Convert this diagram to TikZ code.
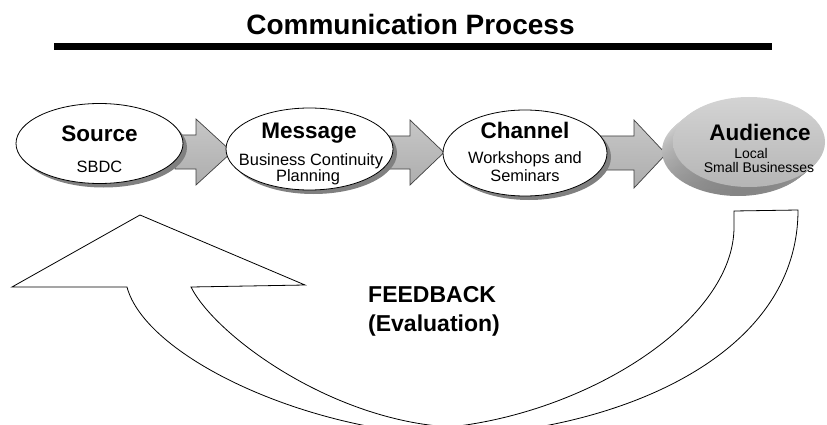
\documentclass[tikz,border=0pt]{standalone}
\usepackage{fontspec}
\setmainfont{Liberation Sans}
\usetikzlibrary{shapes.geometric}
\begin{document}
\begin{tikzpicture}[x=1pt,y=-1pt,
  bubble/.style={ellipse, draw=black, line width=0.8pt, fill=white, inner sep=0pt},
  shadowell/.style={ellipse, fill=black!50, inner sep=0pt},
  blockarrow/.style={draw=black!75, line width=0.7pt, top color=black!22, bottom color=black!32, line join=miter},
  headtext/.style={font=\fontsize{22.5}{24}\selectfont\bfseries, anchor=base, inner sep=0pt},
  subtext/.style={font=\fontsize{16.4}{18}\selectfont, anchor=base, inner sep=0pt},
  smalltext/.style={font=\fontsize{14}{16}\selectfont, anchor=base, inner sep=0pt},
  fbtext/.style={font=\fontsize{23}{29}\selectfont\bfseries, anchor=base west, inner sep=0pt},
]
\useasboundingbox (0,0) rectangle (827,425);

% title
\node[font=\fontsize{28}{30}\selectfont\bfseries, anchor=base, inner sep=0pt] (title) at (410.5,35) {Communication Process};
\draw[line width=6.5pt] (54,46.5) -- (772,46.5);

% block arrows (drawn first, behind the ellipses)
\draw[blockarrow] (175,135) -- (196,135) -- (196,119) -- (232,152) -- (196,185) -- (196,169) -- (175,169) -- cycle;
\draw[blockarrow] (385,136) -- (410,136) -- (410,120) -- (444,152.5) -- (410,185) -- (410,169) -- (385,169) -- cycle;
\draw[blockarrow] (600,136) -- (634,136) -- (634,120) -- (666,154) -- (634,188) -- (634,170) -- (600,170) -- cycle;

% shadows
\node[shadowell, minimum width=167, minimum height=80] at (103.5,147.5) {};
\node[shadowell, minimum width=167, minimum height=82] at (313.5,153) {};
\node[shadowell, minimum width=164, minimum height=86] at (529,157) {};

% ellipses
\node[bubble, minimum width=167, minimum height=80] (source) at (99.5,143.5) {};
\node[bubble, minimum width=167, minimum height=82] (message) at (309.5,149) {};
\node[bubble, minimum width=164, minimum height=86] (channel) at (525,153) {};

% audience 3D disk
\foreach \i in {10,9,...,1}{
  \node[ellipse, inner sep=0pt, minimum width=152, minimum height=90, top color=black!8, bottom color=black!48] at ({749-1.1*\i},{142+0.9*\i}) {};
}
\node[ellipse, inner sep=0pt, minimum width=152, minimum height=90, top color=black!17, bottom color=black!29] (audience) at (749,142) {};

% texts
\node[headtext] (srcname) at (99.5,142) {Source};
\node[subtext] (srcsub) at (99.5,172) {SBDC};
\node[headtext] (msgname) at (309,139) {Message};
\node[subtext] (msgsub1) at (311,165) {Business Continuity};
\node[subtext] (msgsub2) at (308,181.5) {Planning};
\node[headtext] (chname) at (525,139) {Channel};
\node[subtext] (chsub1) at (525,163) {Workshops and};
\node[subtext] (chsub2) at (525,181.5) {Seminars};
\node[headtext] (audname) at (760,140) {Audience};
\node[smalltext] (audsub1) at (751,158) {Local};
\node[smalltext] (audsub2) at (759,172.5) {Small Businesses};

% feedback arrow
\begin{scope}
\clip (0,0) rectangle (827,425);
\draw[fill=white, line width=0.8pt, line join=miter]
  (734,211) -- (798,210)
  .. controls (798,360) and (610,432) .. (450,436)
  .. controls (300,430) and (145,355) .. (127,287)
  -- (12,287) -- (140,215) -- (305,285) -- (191,287)
  .. controls (215,335) and (330,420) .. (450,427)
  .. controls (590,412) and (734,320) .. (734,227) -- cycle;
\end{scope}

\node[fbtext] (fb) at (368,302) {FEEDBACK};
\node[fbtext] (ev) at (368,331) {(Evaluation)};
\end{tikzpicture}
\end{document}
